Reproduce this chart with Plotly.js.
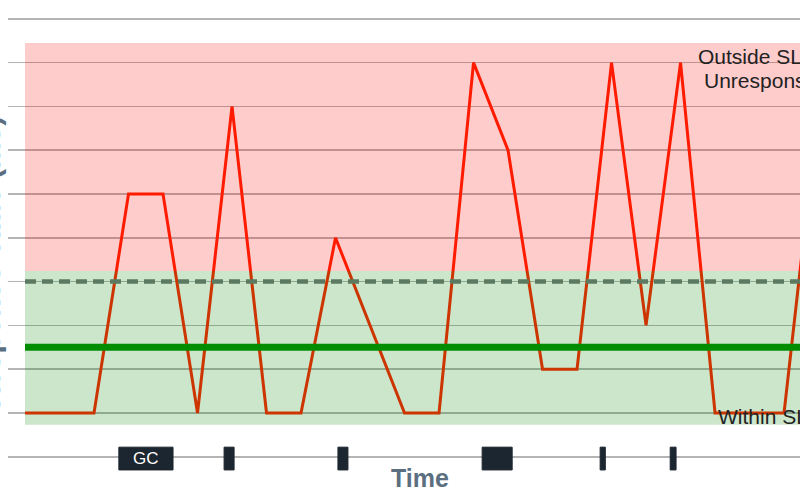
<!DOCTYPE html>
<html>
<head>
<meta charset="utf-8">
<script src="https://cdn.plot.ly/plotly-3.0.1.min.js"></script>
<style>
html,body{margin:0;padding:0;width:800px;height:500px;overflow:hidden;background:#fff;}
#chart{position:absolute;left:-40px;top:0;width:900px;height:500px;}
</style>
</head>
<body>
<div id="chart"></div>
<script>
// Data
const timeIdx = [0, 2, 3, 4, 5, 6, 7, 8, 9, 11, 12, 13, 14, 15, 16, 17, 18, 19, 20, 22, 23];
const latency = [0, 0, 5, 5, 0, 7, 0, 0, 4, 0, 0, 8, 6, 1, 1, 8, 2, 8, 0, 0, 7];
const slaThreshold = 3;
const targetLevel = 1.5;
const zoneBoundary = 3.24;
const outsideTop = 8.45;
const withinBottom = -0.27;
const gcStart = [2.72, 5.77, 9.07, 13.25, 16.67, 18.70];
const gcEnd   = [4.29, 6.06, 9.36, 14.12, 16.82, 18.87];
const gcLabels = ['GC', '', '', '', '', ''];
const zoneLabelsOutside = ['Outside SLA or', 'Unresponsive'];
const zoneLabelWithin = 'Within SLA';

const xMin = -0.493, xMax = 23.39;
const font = 'Liberation Sans, Arial, Helvetica, sans-serif';

const traces = [
  {x: timeIdx, y: latency, mode: 'lines', line: {color: '#ff2200', width: 3}, hoverinfo: 'skip'},
  {x: [0, xMax], y: [slaThreshold, slaThreshold], mode: 'lines',
   line: {color: '#72787a', width: 4.5, dash: '11px,6px'}, hoverinfo: 'skip'},
  {x: [0, xMax], y: [targetLevel, targetLevel], mode: 'lines',
   line: {color: '#009000', width: 7}, hoverinfo: 'skip'}
];

const shapes = [
  {type: 'rect', xref: 'x', yref: 'y', x0: 0, x1: xMax + 1, y0: zoneBoundary, y1: outsideTop,
   fillcolor: 'rgba(255,0,0,0.2)', line: {width: 0}, layer: 'above'},
  {type: 'rect', xref: 'x', yref: 'y', x0: 0, x1: xMax + 1, y0: withinBottom, y1: zoneBoundary,
   fillcolor: 'rgba(0,128,0,0.2)', line: {width: 0}, layer: 'above'}
];
gcStart.forEach((s, i) => {
  shapes.push({type: 'rect', xref: 'x', yref: 'y', x0: s, x1: gcEnd[i], y0: -1.3, y1: -0.78,
    fillcolor: '#1c2630', line: {color: '#1c2630', width: 1}, layer: 'above'});
});

const annotations = [
  {xref: 'paper', yref: 'paper', x: 0.5, y: 0, yanchor: 'middle', yshift: -3, showarrow: false,
   text: '<b>Time</b>', font: {family: font, size: 25, color: '#5b6f80'}},
  {xref: 'paper', yref: 'paper', x: 0, xanchor: 'right', xshift: 0, y: 0.453, yanchor: 'middle',
   showarrow: false, textangle: -90, text: '<b>Response Time (ms)</b>',
   font: {family: font, size: 30, color: '#5b6f80'}},
  {xref: 'x', yref: 'y', x: 19.50, xanchor: 'left', xshift: -2, y: 8.13, showarrow: false,
   text: zoneLabelsOutside[0], font: {family: font, size: 21, color: '#222222'}},
  {xref: 'x', yref: 'y', x: 19.68, xanchor: 'left', xshift: -2, y: 7.58, showarrow: false,
   text: zoneLabelsOutside[1], font: {family: font, size: 21, color: '#222222'}},
  {xref: 'x', yref: 'y', x: 20.09, xanchor: 'left', xshift: -2, y: 0, yanchor: 'middle', yshift: -3, showarrow: false,
   text: zoneLabelWithin, font: {family: font, size: 21, color: '#222222'}}
];
gcStart.forEach((s, i) => {
  if (gcLabels[i]) {
    annotations.push({xref: 'x', yref: 'y', x: (s + gcEnd[i]) / 2, y: -1.04, showarrow: false,
      text: gcLabels[i], font: {family: font, size: 17, color: '#ffffff'}});
  }
});

const layout = {
  width: 900, height: 500,
  margin: {l: 48, r: 28, t: 5, b: 25},
  paper_bgcolor: '#ffffff', plot_bgcolor: '#ffffff',
  showlegend: false,
  xaxis: {range: [xMin, xMax], showgrid: false, zeroline: false, showticklabels: false, ticks: '', showline: false},
  yaxis: {range: [-1.4155, 9.315], dtick: 1, tick0: 0, showgrid: true, gridcolor: '#b4b4b4', gridwidth: 1.5,
          zeroline: false, showticklabels: false, ticks: '', showline: false},
  shapes: shapes,
  annotations: annotations,
  font: {family: font}
};

Plotly.newPlot('chart', traces, layout, {staticPlot: true, displayModeBar: false});
</script>
</body>
</html>
